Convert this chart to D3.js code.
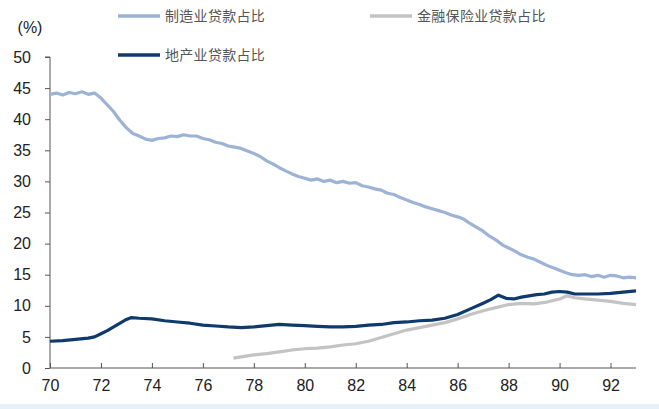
<!DOCTYPE html>
<html>
<head>
<meta charset="utf-8">
<script src="https://cdn.jsdelivr.net/npm/d3@7"></script>
<style>
  html, body { margin: 0; padding: 0; background: #ffffff; }
  svg { display: block; }
</style>
</head>
<body>
<svg id="chart" width="659" height="409"></svg>
<script>
// ---- data ----
const xTicks = [70, 72, 74, 76, 78, 80, 82, 84, 86, 88, 90, 92];
const yTicks = [0, 5, 10, 15, 20, 25, 30, 35, 40, 45, 50];
const seriesNames = ["制造业贷款占比", "金融保险业贷款占比", "地产业贷款占比"];

const mfgYears = [70.0,70.25,70.5,70.75,71.0,71.25,71.5,71.75,72.0,72.25,72.5,72.75,73.0,73.25,73.5,73.75,74.0,74.25,74.5,74.75,75.0,75.25,75.5,75.75,76.0,76.25,76.5,76.75,77.0,77.25,77.5,77.75,78.0,78.25,78.5,78.75,79.0,79.25,79.5,79.75,80.0,80.25,80.5,80.75,81.0,81.25,81.5,81.75,82.0,82.25,82.5,82.75,83.0,83.25,83.5,83.75,84.0,84.25,84.5,84.75,85.0,85.25,85.5,85.75,86.0,86.25,86.5,86.75,87.0,87.25,87.5,87.75,88.0,88.25,88.5,88.75,89.0,89.25,89.5,89.75,90.0,90.25,90.5,90.75,91.0,91.25,91.5,91.75,92.0,92.25,92.5,92.75,93.0];
const mfgValues = [44.0,44.2,43.9,44.3,44.1,44.4,44.0,44.2,43.4,42.3,41.2,39.8,38.6,37.7,37.3,36.8,36.6,36.9,37.0,37.3,37.2,37.5,37.3,37.3,36.9,36.7,36.3,36.1,35.7,35.5,35.3,34.9,34.5,34.0,33.3,32.8,32.2,31.7,31.2,30.8,30.5,30.2,30.4,30.0,30.2,29.8,30.0,29.7,29.8,29.3,29.1,28.8,28.6,28.1,27.9,27.4,27.0,26.6,26.3,25.9,25.6,25.3,25.0,24.6,24.3,23.9,23.2,22.6,22.0,21.2,20.6,19.8,19.3,18.8,18.2,17.8,17.5,17.0,16.5,16.1,15.7,15.3,15.0,14.9,15.0,14.7,14.9,14.6,14.9,14.8,14.5,14.6,14.5];

const finYears = [77.2,77.5,78.0,78.5,79.0,79.5,80.0,80.5,81.0,81.5,82.0,82.5,83.0,83.5,84.0,84.5,85.0,85.5,86.0,86.5,87.0,87.5,88.0,88.5,89.0,89.5,90.0,90.3,90.6,91.0,91.5,92.0,92.5,93.0];
const finValues = [1.6,1.8,2.1,2.3,2.6,2.9,3.1,3.2,3.4,3.7,3.9,4.3,4.9,5.5,6.1,6.5,6.9,7.3,7.9,8.6,9.2,9.7,10.2,10.4,10.3,10.6,11.1,11.6,11.3,11.1,10.9,10.7,10.4,10.2];

const reYears = [70.0,70.5,71.0,71.5,71.75,72.0,72.25,72.5,72.75,73.0,73.2,73.5,74.0,74.5,75.0,75.5,76.0,76.5,77.0,77.5,78.0,78.5,79.0,79.5,80.0,80.5,81.0,81.5,82.0,82.5,83.0,83.5,84.0,84.5,85.0,85.5,86.0,86.5,87.0,87.3,87.6,87.9,88.2,88.5,88.8,89.1,89.4,89.7,90.0,90.3,90.6,91.0,91.5,92.0,92.5,93.0];
const reValues = [4.3,4.4,4.6,4.8,5.0,5.5,6.0,6.6,7.2,7.8,8.1,8.0,7.9,7.6,7.4,7.2,6.9,6.75,6.6,6.5,6.6,6.8,7.0,6.9,6.8,6.7,6.6,6.6,6.7,6.9,7.0,7.3,7.4,7.6,7.7,8.0,8.6,9.5,10.4,11.0,11.7,11.2,11.1,11.4,11.6,11.8,11.9,12.2,12.3,12.2,11.9,11.9,11.9,12.0,12.2,12.4];

// ---- drawing ----
const colors = ["#9cb3d5", "#c3c3c3", "#0f3a6e"];
const svg = d3.select("#chart");

const x = d3.scaleLinear().domain([70, 93]).range([50, 636]);
const y = d3.scaleLinear().domain([0, 50]).range([368, 57]);

const line = d3.line().x(d => x(d[0])).y(d => y(d[1])).curve(d3.curveLinear);
const zip = (a, b) => a.map((v, i) => [v, b[i]]);

// bottom faint band
svg.append("rect").attr("x", 0).attr("y", 404).attr("width", 659).attr("height", 5).attr("fill", "#e6f0f8");

// axes
const yAxis = d3.axisLeft(y).tickValues(yTicks).tickSize(5).tickPadding(14).tickFormat(d3.format("d"));
const gy = svg.append("g").attr("transform", "translate(50,0)").call(yAxis);
gy.select(".domain").attr("stroke", "#555").attr("d", "M-5,57H0V368");
gy.selectAll(".tick line").attr("stroke", "#555");
gy.selectAll("text").attr("font-family", "Liberation Sans, Arial, sans-serif").attr("font-size", 16).attr("fill", "#222");

const xAxis = d3.axisBottom(x).tickValues(xTicks).tickSize(-5).tickPadding(12).tickFormat(d3.format("d"));
const gx = svg.append("g").attr("transform", "translate(0,368)").call(xAxis);
gx.select(".domain").attr("stroke", "#555").attr("d", "M50,0H636");
gx.selectAll(".tick line").attr("stroke", "#555");
gx.selectAll("text").attr("font-family", "Liberation Sans, Arial, sans-serif").attr("font-size", 16).attr("fill", "#222");

svg.append("text").attr("x", 30).attr("y", 33).attr("text-anchor", "middle")
  .attr("font-family", "Liberation Sans, Arial, sans-serif").attr("font-size", 16).attr("fill", "#222").text("(%)");

// lines
const data = [zip(mfgYears, mfgValues), zip(finYears, finValues), zip(reYears, reValues)];
[0, 1, 2].forEach(i => {
  svg.append("path").datum(data[i]).attr("fill", "none").attr("stroke", colors[i])
    .attr("stroke-width", 3.2).attr("stroke-linejoin", "round").attr("d", line);
});

// legend
const legendPos = [[118, 16], [370, 16], [118, 55]];
seriesNames.forEach((name, i) => {
  const [lx, ly] = legendPos[i];
  svg.append("line").attr("x1", lx).attr("x2", lx + 42).attr("y1", ly).attr("y2", ly)
    .attr("stroke", colors[i]).attr("stroke-width", 3.5);
  svg.append("text").attr("x", lx + 47).attr("y", ly + 5)
    .attr("font-family", "Noto Sans CJK SC, sans-serif").attr("font-size", 14)
    .attr("letter-spacing", 0.3).attr("fill", "#555").text(name);
});
</script>
</body>
</html>
